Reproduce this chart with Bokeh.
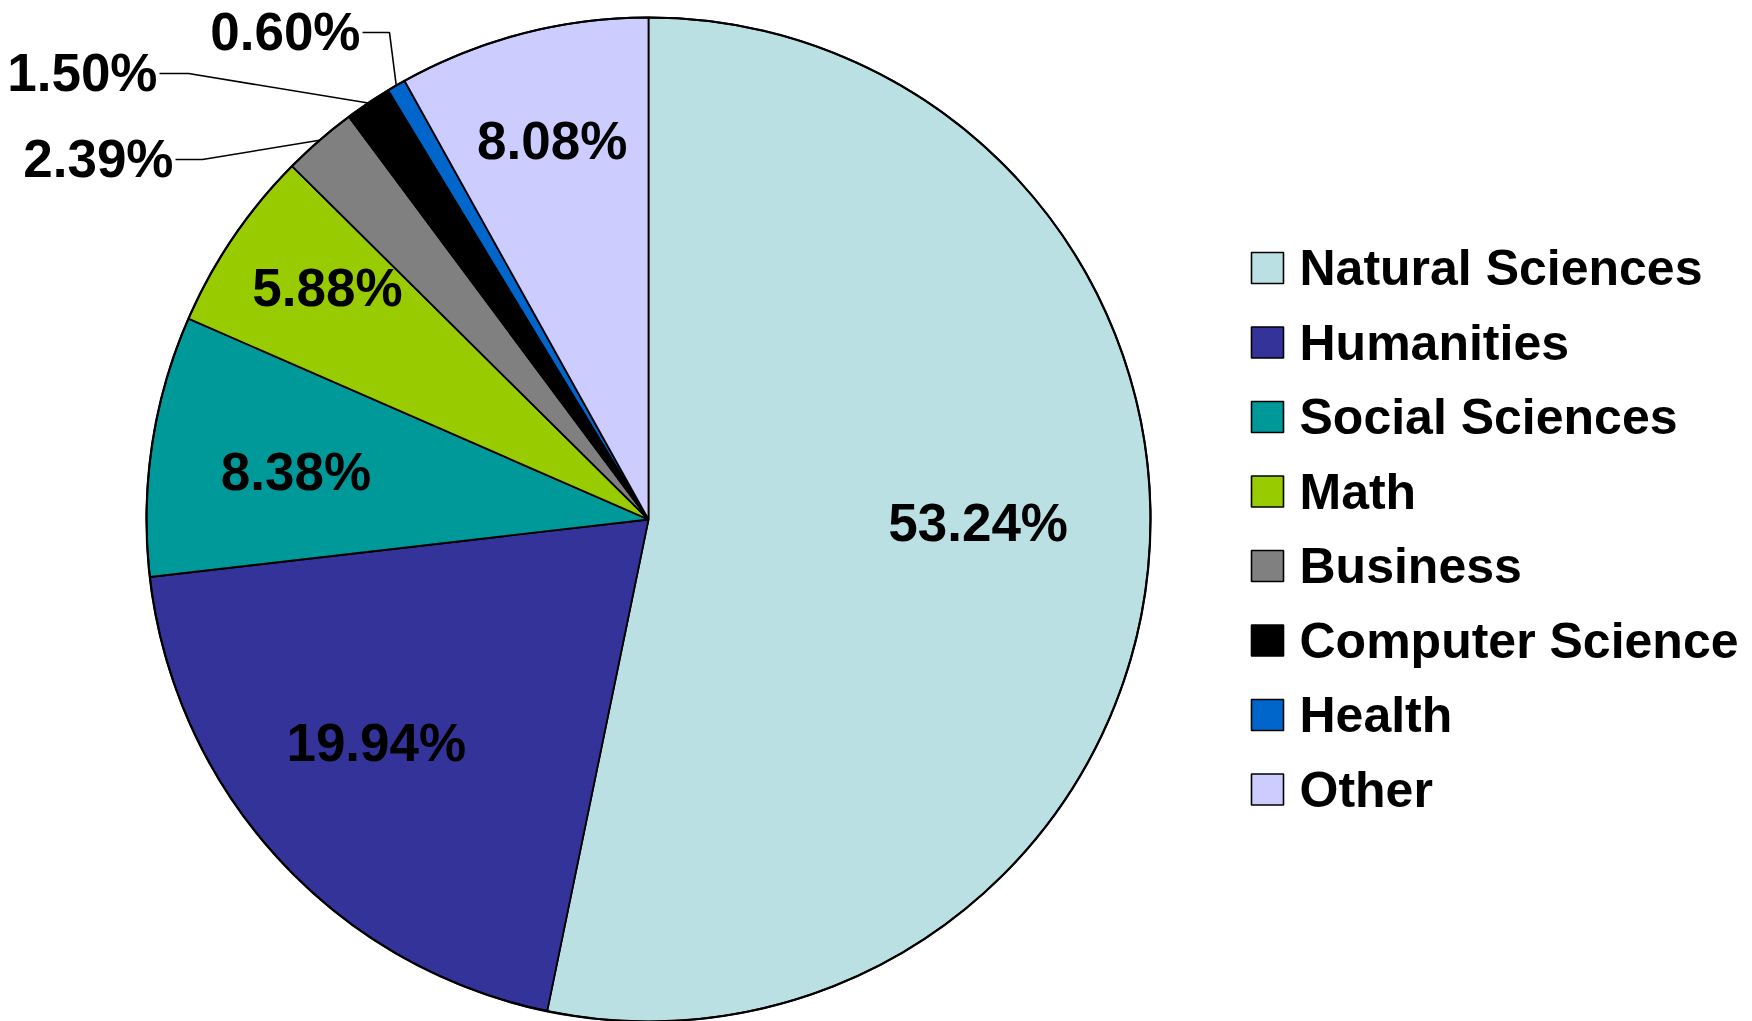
import numpy as np
from bokeh.plotting import figure
from bokeh.models import Range1d, ColumnDataSource
from bokeh.core.properties import value
from bokeh.embed import file_html
from bokeh.resources import INLINE

# ---------------- data ----------------
categories = ["Natural Sciences", "Humanities", "Social Sciences", "Math",
              "Business", "Computer Science", "Health", "Other"]
shares = [53.24, 19.94, 8.38, 5.88, 2.39, 1.50, 0.60, 8.08]
share_labels = ["53.24%", "19.94%", "8.38%", "5.88%", "2.39%", "1.50%", "0.60%", "8.08%"]
colors = ["#BAE0E3", "#333399", "#009999", "#99CC00",
          "#808080", "#000000", "#0066CC", "#CCCCFF"]

# ---------------- layout (pixels, screen coords from top-left) ----------------
W, H = 1752, 1021
CX, CY, R = 648, 519, 502
FONT = "Liberation Sans"
LABEL_PX = 53
LEGEND_PX = 50
inside = [True, True, True, True, False, False, False, True]
label_frac = [0.66, 0.70, 0.71, 0.79, None, None, None, 0.78]
label_nudge = [(0, -31), (-13, -14), (0, 5), (7, -9), None, None, None, (2, 0)]
# outside callouts: text right end and vertical centre of text, elbow x
callout = {4: (173, 158, 202), 5: (157, 72, 188), 6: (360, 31, 389)}
LEG_SQ_X, LEG_TXT_X, LEG_Y0, LEG_DY, LEG_SQ = 1267, 1299, 267.5, 74.5, 32


def Y(y):
    return H - y


vals = np.array(shares, dtype=float)
frac = vals / vals.sum()
cum_end = np.cumsum(frac)
cum_start = cum_end - frac
start_angle = np.pi / 2 - 2 * np.pi * cum_end
end_angle = np.pi / 2 - 2 * np.pi * cum_start
mid_theta = 2 * np.pi * (cum_start + cum_end) / 2  # clockwise from top

p = figure(width=W, height=H, x_range=Range1d(0, W), y_range=Range1d(0, H),
           output_backend="svg", toolbar_location=None, min_border=0)
p.axis.visible = False
p.grid.visible = False
p.outline_line_color = None
p.background_fill_color = "white"
p.border_fill_color = "white"

src = ColumnDataSource(dict(start=start_angle, end=end_angle, color=colors, cat=categories))
p.wedge(x=CX, y=Y(CY), radius=R, start_angle="start", end_angle="end",
        fill_color="color", line_color="black", line_width=1.8, source=src)
p.circle(x=CX, y=Y(CY), radius=R, fill_color=None, line_color="black", line_width=2.2)

# inside labels
lx, ly, lt = [], [], []
for i in range(len(categories)):
    if not inside[i]:
        continue
    f = label_frac[i]
    dx, dy = label_nudge[i]
    sx = CX + f * R * np.sin(mid_theta[i]) + dx
    sy = CY - f * R * np.cos(mid_theta[i]) + dy
    lx.append(sx)
    ly.append(Y(sy))
    lt.append(share_labels[i])
p.text(x=lx, y=ly, text=lt, text_font=value(FONT), text_font_style="bold",
       text_font_size=f"{LABEL_PX}px", text_align="center", text_baseline="middle",
       text_color="black")

# outside labels with leader lines
ox, oy, ot, xs, ys = [], [], [], [], []
for i, (tx, ty, ex) in callout.items():
    edge_x = CX + R * np.sin(mid_theta[i])
    edge_y = CY - R * np.cos(mid_theta[i])
    ox.append(tx)
    oy.append(Y(ty))
    ot.append(share_labels[i])
    xs.append([tx + 2, ex, edge_x])
    ys.append([Y(ty + 1), Y(ty + 1), Y(edge_y)])
p.multi_line(xs=xs, ys=ys, line_color="black", line_width=1.6)
p.text(x=ox, y=oy, text=ot, text_font=value(FONT), text_font_style="bold",
       text_font_size=f"{LABEL_PX}px", text_align="right", text_baseline="middle",
       text_color="black")

# legend
rows = np.arange(len(categories))
row_y = LEG_Y0 + LEG_DY * rows
p.rect(x=[LEG_SQ_X] * len(categories), y=[Y(v) for v in row_y], width=LEG_SQ, height=LEG_SQ - 1,
       fill_color=colors, line_color="black", line_width=1.6)
p.text(x=[LEG_TXT_X] * len(categories), y=[Y(v) for v in row_y],
       text=categories, text_font=value(FONT), text_font_style="bold",
       text_font_size=f"{LEGEND_PX}px", text_align="left", text_baseline="middle",
       text_color="black")

open("out.html", "w").write(file_html(p, INLINE))
